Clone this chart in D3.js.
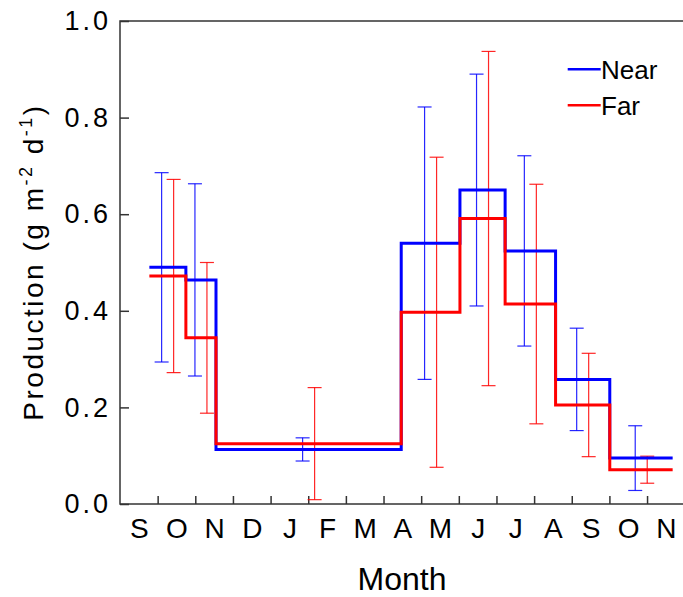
<!DOCTYPE html>
<html>
<head>
<meta charset="utf-8">
<script src="https://cdn.jsdelivr.net/npm/d3@7/dist/d3.min.js"></script>
<style>
  html, body { margin: 0; padding: 0; background: #fff; }
  svg { display: block; font-family: Arial, "Liberation Sans", sans-serif; }
</style>
</head>
<body>
<svg id="chart" width="683" height="597"></svg>
<script>
// Month labels along the x axis (one per month, Sep through Nov of the following year)
const monthLabels = ["S", "O", "N", "D", "J", "F", "M", "A", "M", "J", "J", "A", "S", "O", "N"];

// Sampling interval boundaries, in months since 1 September
const sampleBounds = [0.78, 1.75, 2.55, 7.47, 9.03, 10.23, 11.57, 13.01, 14.68];

// Mean production per interval (g m-2 d-1)
const nearMean = [0.490, 0.464, 0.113, 0.540, 0.650, 0.524, 0.258, 0.095];
const farMean  = [0.472, 0.344, 0.125, 0.397, 0.591, 0.414, 0.205, 0.071];

// Standard deviation per interval
const nearSD = [0.196, 0.199, 0.024, 0.282, 0.240, 0.197, 0.106, 0.067];
const farSD  = [0.200, 0.156, 0.116, 0.321, 0.346, 0.248, 0.107, 0.028];

const yTicks = [0, 0.2, 0.4, 0.6, 0.8, 1.0];

const svg = d3.select("#chart");
const plotLeft = 120, plotTop = 21, plotBottom = 504, plotRight = 684.7;

const x = d3.scaleLinear().domain([0, monthLabels.length]).range([plotLeft, plotRight]);
const y = d3.scaleLinear().domain([0, 1]).range([plotBottom, plotTop]);

const axisColor = "#333";
const fontFamily = "Arial, 'Liberation Sans', sans-serif";

// Frame
svg.append("rect")
  .attr("x", plotLeft).attr("y", plotTop)
  .attr("width", plotRight - plotLeft).attr("height", plotBottom - plotTop)
  .attr("fill", "none").attr("stroke", axisColor).attr("stroke-width", 1.5);

// Y axis with inward ticks
const yAxis = svg.append("g")
  .attr("transform", `translate(${plotLeft},0)`)
  .call(d3.axisLeft(y).tickValues(yTicks).tickFormat(d3.format(".1f"))
    .tickSize(-9).tickPadding(9));
yAxis.select(".domain").remove();
yAxis.selectAll("line").attr("stroke", axisColor).attr("stroke-width", 1.5);
yAxis.selectAll("text").attr("font-size", 27).attr("fill", "#000")
  .attr("letter-spacing", 3).attr("font-family", fontFamily);

// X axis: ticks at month boundaries
const xTickAxis = svg.append("g")
  .attr("transform", `translate(0,${plotBottom})`)
  .call(d3.axisBottom(x).tickValues(d3.range(1, monthLabels.length)).tickFormat("")
    .tickSize(-8));
xTickAxis.select(".domain").remove();
xTickAxis.selectAll("line").attr("stroke", axisColor).attr("stroke-width", 1.5);

// X axis: month letters centred in each month
const xLabelAxis = svg.append("g")
  .attr("transform", `translate(0,${plotBottom})`)
  .call(d3.axisBottom(x).tickValues(monthLabels.map((_, i) => i + 0.5))
    .tickFormat((d, i) => monthLabels[i]).tickSize(0).tickPadding(14));
xLabelAxis.select(".domain").remove();
xLabelAxis.selectAll("text").attr("font-size", 28).attr("fill", "#000")
  .attr("font-family", fontFamily);

// Axis titles
svg.append("text")
  .attr("x", 402).attr("y", 590)
  .attr("text-anchor", "middle").attr("font-size", 32).attr("fill", "#000")
  .text("Month");

const yTitle = svg.append("text")
  .attr("transform", `translate(43,262) rotate(-90)`)
  .attr("text-anchor", "middle").attr("font-size", 28).attr("letter-spacing", 2.5)
  .attr("fill", "#000");
yTitle.append("tspan").text("Production (g m");
yTitle.append("tspan").attr("dy", -11).attr("font-size", 18).text("-2");
yTitle.append("tspan").attr("dy", 11).text(" d");
yTitle.append("tspan").attr("dy", -11).attr("font-size", 18).text("-1");
yTitle.append("tspan").attr("dy", 11).text(")");

// Series definitions
const series = [
  { name: "Near", mean: nearMean, sd: nearSD, color: "#0000ff", offset: -6 },
  { name: "Far",  mean: farMean,  sd: farSD,  color: "#ff0000", offset: 6 }
];

const mids = sampleBounds.slice(0, -1).map((b, i) => (b + sampleBounds[i + 1]) / 2);

// Error bars (drawn beneath the step lines)
series.forEach(s => {
  const g = svg.append("g").attr("stroke", s.color).attr("stroke-width", 1.2)
    .attr("stroke-opacity", 0.85).attr("fill", "none");
  s.mean.forEach((m, i) => {
    const cx = x(mids[i]) + s.offset;
    const y1 = y(m + s.sd[i]), y2 = y(m - s.sd[i]);
    g.append("line").attr("x1", cx).attr("x2", cx).attr("y1", y1).attr("y2", y2);
    g.append("line").attr("x1", cx - 7).attr("x2", cx + 7).attr("y1", y1).attr("y2", y1);
    g.append("line").attr("x1", cx - 7).attr("x2", cx + 7).attr("y1", y2).attr("y2", y2);
  });
});

// Step lines
const stepLine = d3.line().x(d => x(d[0])).y(d => y(d[1])).curve(d3.curveStepAfter);
series.forEach(s => {
  const pts = s.mean.map((m, i) => [sampleBounds[i], m]);
  pts.push([sampleBounds[sampleBounds.length - 1], s.mean[s.mean.length - 1]]);
  svg.append("path").datum(pts)
    .attr("d", stepLine)
    .attr("fill", "none").attr("stroke", s.color).attr("stroke-width", 3)
    .attr("stroke-linejoin", "miter");
});

// Legend
const legend = svg.append("g");
series.forEach((s, i) => {
  const ly = 69.3 + i * 36;
  legend.append("line").attr("x1", 567.7).attr("x2", 600.7).attr("y1", ly).attr("y2", ly)
    .attr("stroke", s.color).attr("stroke-width", 2.5);
  legend.append("text").attr("x", 601).attr("y", ly + 9.5)
    .attr("font-size", 26).attr("fill", "#000").text(s.name);
});
</script>
</body>
</html>
